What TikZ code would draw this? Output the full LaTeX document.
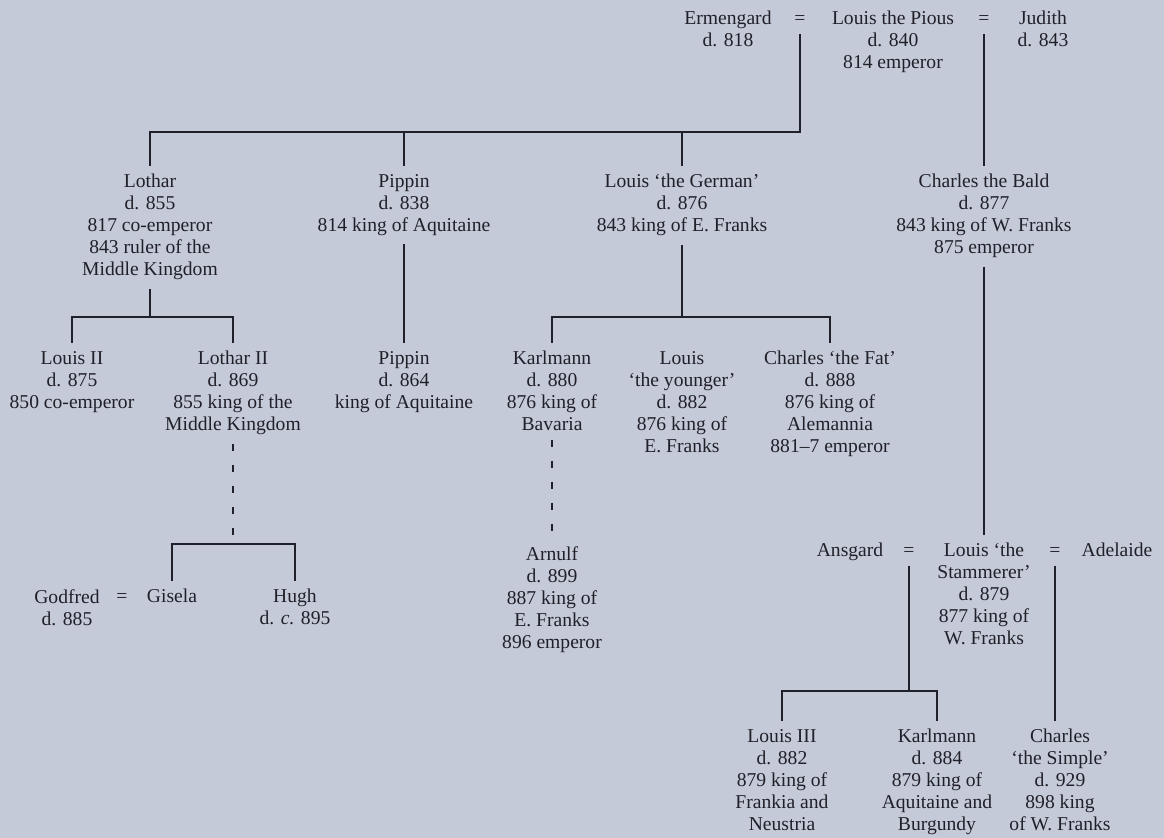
\documentclass[tikz,border=0pt]{standalone}
\usepackage{fontspec}
\setmainfont{Liberation Serif}
\usepackage{xcolor}
\usetikzlibrary{positioning,calc}
\definecolor{paper}{RGB}{197,202,216}
\definecolor{ink}{RGB}{32,32,42}

\begin{document}
\begin{tikzpicture}[x=0.5pt,y=-0.5pt,font=\fontsize{9.8}{11}\selectfont,text=ink,
  person/.style={align=center,anchor=north,inner xsep=0pt,inner ysep=4pt},
  wed/.style={inner xsep=0pt,inner ysep=4.5pt},
  link/.style={draw=ink,line width=0.8pt},
  guess/.style={link,dash pattern=on 3.5pt off 7pt}]
\fill[paper] (0,0) rectangle (1164,838);
\useasboundingbox (0,0) rectangle (1164,838);
% generation of Louis the Pious
\node[person] (erm) at (728,3) {Ermengard\\d. 818};
\node[wed] (eqa) at (800,20) {=};
\node[person] (pious) at (893,3) {Louis the Pious\\d. 840\\814 emperor};
\node[wed] (eqb) at (984,20) {=};
\node[person] (judith) at (1043,3) {Judith\\d. 843};
% his sons
\node[person] (lothar) at (150,166) {Lothar\\d. 855\\817 co-emperor\\843 ruler of the\\Middle Kingdom};
\node[person] (pippin) at (404,166) {Pippin\\d. 838\\814 king of Aquitaine};
\node[person] (ludger) at (682,166) {Louis ‘the German’\\d. 876\\843 king of E. Franks};
\node[person] (charlesb) at (984,166) {Charles the Bald\\d. 877\\843 king of W. Franks\\875 emperor};
% grandsons
\node[person] (louisii) at (72,343) {Louis II\\d. 875\\850 co-emperor};
\node[person] (lotharii) at (233,343) {Lothar II\\d. 869\\855 king of the\\Middle Kingdom};
\node[person] (pippinii) at (404,343) {Pippin\\d. 864\\king of Aquitaine};
\node[person] (karl) at (552,343) {Karlmann\\d. 880\\876 king of\\Bavaria};
\node[person] (louisy) at (682,343) {Louis\\‘the younger’\\d. 882\\876 king of\\E. Franks};
\node[person] (charlesf) at (830,343) {Charles ‘the Fat’\\d. 888\\876 king of\\Alemannia\\881–7 emperor};
% later lines
\node[person] (godfred) at (67,581) {Godfred\\d. 885};
\node[wed] (eqe) at (122,598) {=};
\node[person] (gisela) at (172,581) {Gisela};
\node[person] (hugh) at (295,581) {Hugh\\d. \textit{c.} 895};
\node[person] (arnulf) at (552,538) {Arnulf\\d. 899\\887 king of\\E. Franks\\896 emperor};
\node[person] (ansgard) at (850,535) {Ansgard};
\node[wed] (eqc) at (909,552) {=};
\node[person] (stam) at (984,535) {Louis ‘the\\Stammerer’\\d. 879\\877 king of\\W. Franks};
\node[wed] (eqd) at (1055,552) {=};
\node[person] (adel) at (1117,535) {Adelaide};
\node[person] (louisiii) at (782,721) {Louis III\\d. 882\\879 king of\\Frankia and\\Neustria};
\node[person] (karlii) at (937,721) {Karlmann\\d. 884\\879 king of\\Aquitaine and\\Burgundy};
\node[person] (charless) at (1060,721) {Charles\\‘the Simple’\\d. 929\\898 king\\of W. Franks};
% descent lines
\coordinate (bartop) at (eqa.south |- 0,132);
\coordinate (barl) at (lothar.south |- 0,317);
\coordinate (barlg) at (ludger.south |- 0,317);
\coordinate (barg) at (lotharii.south |- 0,544);
\coordinate (barst) at (eqc.south |- 0,691);
\draw[link] (eqa.south) -- (bartop) -| (lothar.north);
\draw[link] (pippin.north) -- (pippin.north |- bartop);
\draw[link] (ludger.north) -- (ludger.north |- bartop);
\draw[link] (eqb.south) -- (charlesb.north);
\draw[link] (lothar.south) -- (barl);
\draw[link] (louisii.north) |- (barl) -| (lotharii.north);
\draw[link] (pippin.south) -- (pippinii.north);
\draw[link] (ludger.south) -- (barlg);
\draw[link] (karl.north) |- (barlg) -| (charlesf.north);
\draw[guess] (lotharii.south) -- (barg);
\draw[link] (gisela.north) |- (barg) -| (hugh.north);
\draw[guess] (karl.south) -- (arnulf.north);
\draw[link] (charlesb.south) -- (stam.north);
\draw[link] (eqc.south) -- (barst);
\draw[link] (louisiii.north) |- (barst) -| (karlii.north);
\draw[link] (eqd.south) -- (eqd.south |- charless.north);
\end{tikzpicture}
\end{document}
